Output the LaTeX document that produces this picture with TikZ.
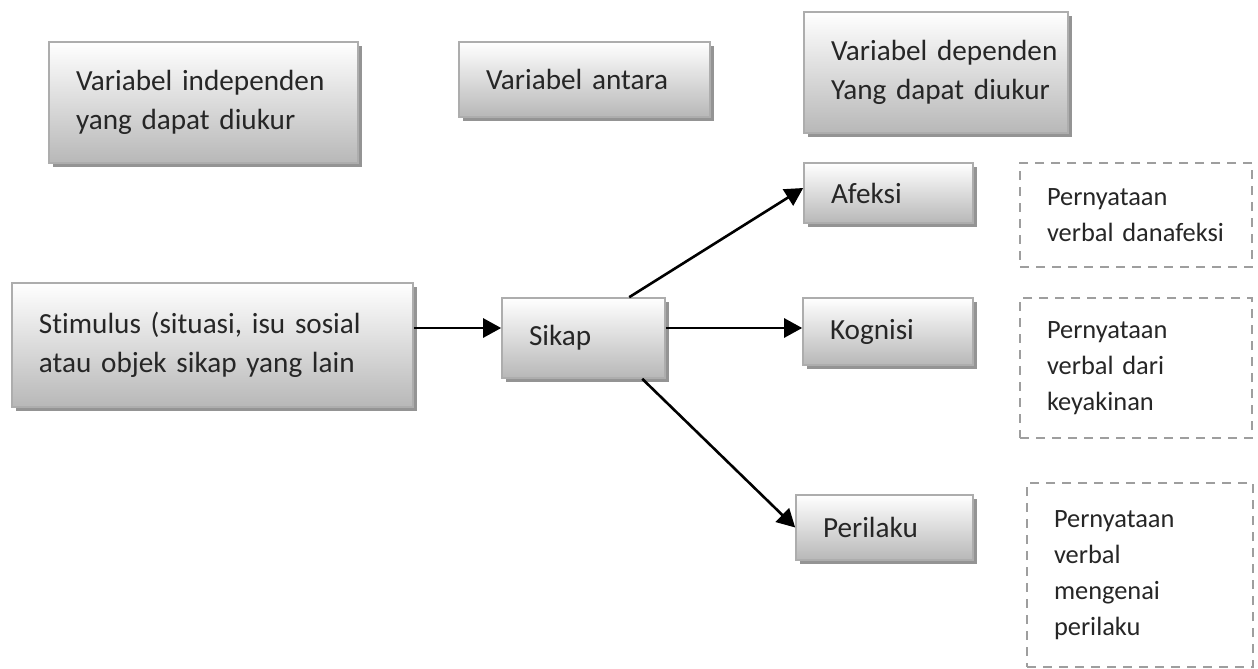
\documentclass[tikz,border=0pt]{standalone}
\usepackage{fontspec}
\setmainfont{Carlito}[Ligatures={NoCommon,NoRare}, Contextuals=NoAlternate]
\usetikzlibrary{arrows.meta,shadows}
\begin{document}
\begin{tikzpicture}[x=0.5pt,y=-0.5pt,
  card/.style={draw=black!32, line width=0.8pt, top color=white, bottom color=black!28,
    general shadow={fill=black!42, shadow xshift=2.2pt, shadow yshift=-2.2pt},
    inner xsep=13.5pt, inner ysep=0pt, align=left, text=black!85,
    font=\fontsize{14.6pt}{19.5pt}\selectfont},
  note/.style={draw=black!38, dash pattern=on 4.5pt off 3.5pt, line width=0.9pt,
    inner xsep=13.5pt, inner ysep=0pt, align=left, text=black!85,
    font=\fontsize{13.2pt}{18pt}\selectfont},
  link/.style={-{Triangle[length=9pt,width=9.5pt]}, line width=1.3pt, black}
]
\fill[white] (0,0) rectangle (1258,669);
\useasboundingbox (0,0) rectangle (1258,669);

% column headings
\node[card, minimum width=154.5pt, minimum height=60.5pt, text width=127.5pt] (indep) at (203.5,102.5)
  {\makebox[127.5pt][s]{Variabel independen}\\yang dapat diukur};
\node[card, minimum width=125.5pt, minimum height=37.5pt, text width=98.5pt] (antara) at (584.5,79.5)
  {Variabel antara};
\node[card, minimum width=132pt, minimum height=60.5pt, text width=105pt] (dep) at (936,72.5)
  {\makebox[105pt][l]{\makebox[116.5pt][s]{Variabel dependen}}\\
   \makebox[105pt][l]{Yang dapat diukur}};

% stimulus and attitude
\node[card, minimum width=200.5pt, minimum height=62pt, text width=173.5pt] (stim) at (212.5,345)
  {\makebox[173.5pt][s]{Stimulus (situasi, isu sosial}\\atau objek sikap yang lain};
\node[card, minimum width=81.5pt, minimum height=40pt, text width=54.5pt] (sikap) at (583.5,338) {Sikap};

% components of attitude
\node[card, minimum width=84.5pt, minimum height=30pt, text width=57.5pt] (afeksi) at (888.5,193) {Afeksi};
\node[card, minimum width=85pt, minimum height=33.5pt, text width=58pt] (kognisi) at (888,331.5) {Kognisi};
\node[card, minimum width=88.5pt, minimum height=32.5pt, text width=61.5pt] (perilaku) at (884.5,527.5) {Perilaku};

% measurable responses
\node[note, minimum width=116pt, minimum height=52pt, text width=89pt] (verbA) at (1136,215)
  {Pernyataan\\verbal danafeksi};
\node[note, minimum width=116pt, minimum height=70pt, text width=89pt] (verbK) at (1136,368)
  {Pernyataan\\verbal dari\\keyakinan};
\node[note, minimum width=113pt, minimum height=92pt, text width=86pt] (verbP) at (1140,575)
  {Pernyataan\\verbal\\mengenai\\perilaku};

% connectors
\draw[link] ([yshift=5pt]sikap.west -| stim.east) -- ([yshift=5pt]sikap.west);
\draw[link] ([xshift=64pt]sikap.north west) -- ([yshift=2.5pt]afeksi.west);
\draw[link] ([yshift=5pt]sikap.east) -- ([yshift=5pt]sikap.east -| kognisi.west);
\draw[link] ([xshift=70.5pt]sikap.south west) -- (perilaku.west);
\end{tikzpicture}
\end{document}
